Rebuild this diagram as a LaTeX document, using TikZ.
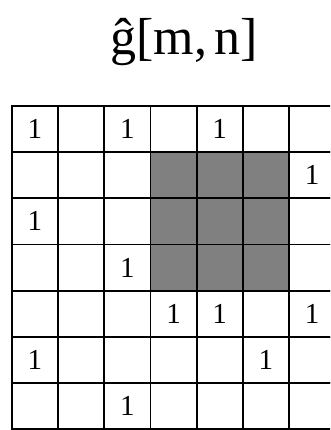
\documentclass[tikz,border=0pt]{standalone}
\usepackage{fontspec}
\setmainfont{Liberation Serif}
\usetikzlibrary{backgrounds}
\begin{document}
\begin{tikzpicture}[x=1pt,y=-1pt,
  cellbox/.style={draw=black, line width=1.8pt, minimum size=46.2pt, inner sep=0pt,
    font=\fontsize{29}{29}\selectfont},
  shade/.style={fill=black!50},
  titletext/.style={font=\fontsize{52}{52}\selectfont, inner sep=0pt, anchor=base}]
\useasboundingbox (0,0) rectangle (330,430);
\clip (0,0) rectangle (330,430);
\node[titletext] (title) at (184,55) {ĝ[m,\hspace{0.14em}n]};
\foreach \r/\c/\t in {
 0/0/1,0/1/,0/2/1,0/3/,0/4/1,0/5/,0/6/,
 1/0/,1/1/,1/2/,1/3/,1/4/,1/5/,1/6/1,
 2/0/1,2/1/,2/2/,2/3/,2/4/,2/5/,2/6/,
 3/0/,3/1/,3/2/1,3/3/,3/4/,3/5/,3/6/,
 4/0/,4/1/,4/2/,4/3/1,4/4/1,4/5/,4/6/1,
 5/0/1,5/1/,5/2/,5/3/,5/4/,5/5/1,5/6/,
 6/0/,6/1/,6/2/1,6/3/,6/4/,6/5/,6/6/}
  \node[cellbox] (c\r\c) at ({11.8+46.2*(\c+0.5)},{105.8+46.2*(\r+0.5)}) {\t};
\begin{scope}[on background layer]
  \fill[shade] (c13.north west) rectangle (c35.south east);
\end{scope}
\end{tikzpicture}
\end{document}
